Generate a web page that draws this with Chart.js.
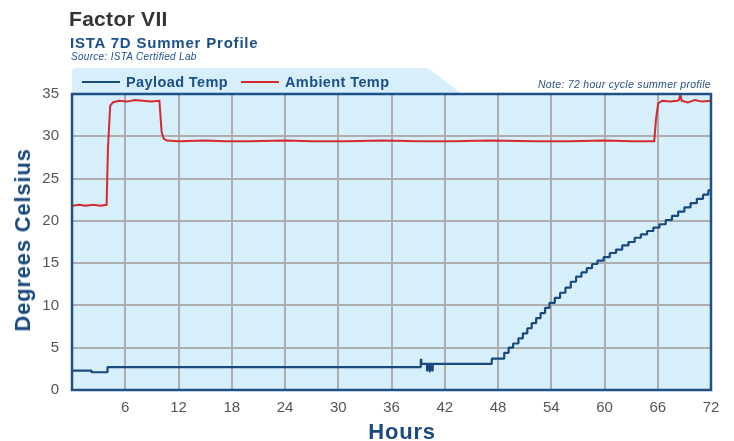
<!DOCTYPE html>
<html>
<head>
<meta charset="utf-8">
<script src="https://cdn.jsdelivr.net/npm/chart.js@4"></script>
<style>
  body { margin: 0; background: #fff; font-family: "Liberation Sans", Arial, sans-serif; }
  #wrap { position: relative; width: 734px; height: 441px; }
  .t { position: absolute; white-space: nowrap; }
  #title { left: 69px; top: 7px; font-size: 21px; font-weight: bold; color: #333; letter-spacing: 0.3px; }
  #sub { left: 70px; top: 34px; font-size: 15px; font-weight: bold; color: #1b4f8c; letter-spacing: 0.8px; }
  #src { left: 71px; top: 51px; font-size: 10px; font-style: italic; color: #1b4f8c; letter-spacing: 0.3px; }
  #note { right: 23px; top: 78px; font-size: 10.5px; font-style: italic; color: #2a4f7c; letter-spacing: 0.3px; }
  .leg { top: 74px; font-size: 14.5px; font-weight: bold; color: #1b4f8c; letter-spacing: 0.4px; }
  .sw { display: inline-block; width: 38px; height: 0; border-top: 2px solid; vertical-align: middle; margin-right: 6px; position: relative; top: -1px; }
  .axt { font-size: 22px; font-weight: bold; color: #184a80; letter-spacing: 0.8px; line-height: 26px; }
  #xt { left: 402px; top: 419px; transform: translateX(-50%); }
  #yt { left: 23px; top: 240px; transform: translate(-50%, -50%) rotate(-90deg); }
</style>
</head>
<body>
<div id="wrap">
  <canvas id="chart"></canvas>
  <div class="t" id="title">Factor VII</div>
  <div class="t" id="sub">ISTA 7D Summer Profile</div>
  <div class="t" id="src">Source: ISTA Certified Lab</div>
  <div class="t" id="note">Note: 72 hour cycle summer profile</div>
  <div class="t leg" style="left:82px"><span class="sw" style="border-color:#184a80"></span>Payload Temp</div>
  <div class="t leg" style="left:241px"><span class="sw" style="border-color:#d42a2f"></span>Ambient Temp</div>
  <div class="t axt" id="xt">Hours</div>
  <div class="t axt" id="yt">Degrees Celsius</div>
</div>
<script>
const xTicks = [6, 12, 18, 24, 30, 36, 42, 48, 54, 60, 66, 72];
const yTicks = [0, 5, 10, 15, 20, 25, 30, 35];

// payload temp, step values (value holds from this hour on)
const payloadHours = [0, 2.2, 4.0, 39.3, 39.36, 40.0, 40.05, 40.3, 40.35, 40.6, 40.65, 47.3,
  48.7, 49.2, 49.7, 50.3, 50.8, 51.3, 51.8, 52.3, 52.8, 53.3, 53.8, 54.4, 55.0, 55.6, 56.2, 56.8,
  57.4, 58.0, 58.6, 59.2, 59.9, 60.6, 61.3, 62.0, 62.7, 63.4, 64.1, 64.8, 65.5, 66.2, 66.9, 67.6,
  68.3, 69.0, 69.7, 70.4, 71.1, 71.7, 72];
const payloadTemp = [2.3, 2.1, 2.7, 3.6, 3.1, 2.3, 3.1, 2.2, 3.1, 2.3, 3.1, 3.7,
  4.4, 5.0, 5.5, 6.1, 6.7, 7.3, 7.9, 8.5, 9.1, 9.7, 10.3, 10.9, 11.5, 12.1, 12.8, 13.4,
  13.9, 14.4, 14.9, 15.3, 15.7, 16.2, 16.6, 17.1, 17.5, 18.0, 18.4, 18.8, 19.2, 19.6, 20.1, 20.6,
  21.1, 21.6, 22.1, 22.6, 23.1, 23.6, 23.6];

// ambient temp
const ambientHours = [0, 0.8, 1.5, 2.4, 3.2, 3.9, 4.05, 4.3, 4.6, 5.3, 6.2, 7.1, 8.0, 8.9, 9.85,
  10.1, 10.35, 10.7, 12, 15, 17.3, 20, 24, 27, 31, 35, 39, 43, 47, 52, 56, 60, 63, 65.6,
  65.8, 66.05, 66.5, 67.4, 68.2, 68.4, 68.55, 68.7, 69.4, 70.2, 71.0, 72];
const ambientTemp = [21.8, 21.9, 21.8, 21.9, 21.8, 21.9, 28.5, 33.6, 34.0, 34.2, 34.1, 34.3, 34.2, 34.1, 34.2,
  30.5, 29.7, 29.5, 29.4, 29.5, 29.4, 29.4, 29.5, 29.4, 29.4, 29.5, 29.4, 29.4, 29.5, 29.4, 29.4, 29.5, 29.4, 29.4,
  32.0, 33.9, 34.2, 34.1, 34.2, 34.3, 35.0, 34.2, 34.0, 34.3, 34.1, 34.2];

const toPts = (xs, ys) => xs.map((h, i) => ({ x: h, y: ys[i] }));

const bgPlugin = {
  id: 'bg',
  beforeDraw(chart) {
    const { ctx, chartArea: a } = chart;
    ctx.save();
    ctx.fillStyle = '#d6effb';
    // legend tab
    ctx.beginPath();
    ctx.moveTo(a.left, a.bottom);
    ctx.lineTo(a.left, 72);
    ctx.quadraticCurveTo(a.left, 68, a.left + 4, 68);
    ctx.lineTo(428, 68);
    ctx.lineTo(462, a.top);
    ctx.lineTo(a.right, a.top);
    ctx.lineTo(a.right, a.bottom);
    ctx.closePath();
    ctx.fill();
    ctx.restore();
  },
  afterDatasetsDraw(chart) {
    const { ctx, chartArea: a } = chart;
    ctx.save();
    ctx.strokeStyle = '#1f5186';
    ctx.lineWidth = 2.5;
    ctx.strokeRect(a.left, a.top, a.right - a.left, a.bottom - a.top);
    ctx.restore();
  }
};

new Chart(document.getElementById('chart'), {
  type: 'line',
  data: {
    datasets: [{
      label: 'Payload Temp',
      data: toPts(payloadHours, payloadTemp),
      borderColor: '#184a80',
      backgroundColor: '#184a80',
      borderWidth: 2.2,
      borderJoinStyle: 'bevel',
      stepped: true,
      pointRadius: 0
    }, {
      label: 'Ambient Temp',
      data: toPts(ambientHours, ambientTemp),
      borderColor: '#d42a2f',
      backgroundColor: '#d42a2f',
      borderWidth: 2,
      tension: 0,
      pointRadius: 0
    }]
  },
  options: {
    responsive: true,
    maintainAspectRatio: false,
    animation: false,
    layout: { padding: { top: 94, right: 23, bottom: 0, left: 0 } },
    plugins: { legend: { display: false }, tooltip: { enabled: false } },
    scales: {
      x: {
        type: 'linear', min: 0, max: 72,
        afterFit: (s) => { s.height = 51; },
        afterBuildTicks: (s) => { s.ticks = xTicks.map(v => ({ value: v })); },
        grid: { color: '#abadaf', lineWidth: 2, drawTicks: false },
        border: { display: false },
        ticks: { color: '#555', font: { family: 'Liberation Sans', size: 15 }, padding: 9 }
      },
      y: {
        min: 0, max: 35,
        afterFit: (s) => { s.width = 72; },
        afterBuildTicks: (s) => { s.ticks = yTicks.map(v => ({ value: v })); },
        grid: { color: '#abadaf', lineWidth: 2, drawTicks: false },
        border: { display: false },
        ticks: { color: '#555', font: { family: 'Liberation Sans', size: 15 }, padding: 13 }
      }
    }
  },
  plugins: [bgPlugin]
});
</script>
</body>
</html>
